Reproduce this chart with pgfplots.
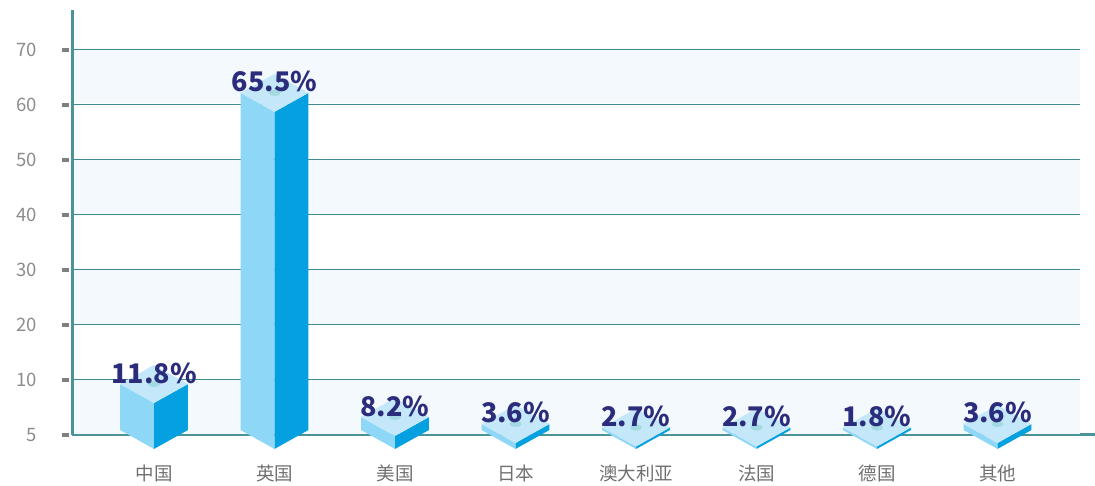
\documentclass[border=0pt]{standalone}
\usepackage{fontspec}
\setmainfont{Noto Sans CJK SC}
\usepackage{pgfplots}
\usepackage{pgfplotstable}
\pgfplotsset{compat=1.18}
\definecolor{lface}{HTML}{8FD7F7}
\definecolor{rface}{HTML}{05A0E0}
\definecolor{tface}{HTML}{C4E8FA}
\definecolor{spotc}{HTML}{A3DAE2}
\definecolor{navy}{HTML}{2B2D7C}
\definecolor{bandc}{HTML}{F4F9FD}
\definecolor{gridc}{HTML}{3D8B92}
\definecolor{axisc}{HTML}{4A9399}
\definecolor{tickc}{HTML}{808080}
\definecolor{ytickc}{HTML}{8C8C8C}
\definecolor{xtickc}{HTML}{707070}

% x = category position, top = drawn height of the cube's side edges, val = label value
\pgfplotstableread{
x top val
0 9.27 11.8
1 62.2 65.5
2 3.27 8.2
3 2.0 3.6
4 1.36 2.7
5 1.36 2.7
6 1.36 1.8
7 2.0 3.6
}\bars

\newcommand\cube[2]{%
  \pgfmathsetmacro\xl{#1-0.282}%
  \pgfmathsetmacro\xr{#1+0.282}%
  \pgfmathsetmacro\tb{#2+3.45}%
  \pgfmathsetmacro\tf{#2-3.45}%
  \edef\doit{%
    \noexpand\addplot[fill=lface,draw=none] coordinates {(\xl,#2) (#1,\tf) (#1,-2.54) (\xl,0.91)};
    \noexpand\addplot[fill=rface,draw=none] coordinates {(#1,\tf) (\xr,#2) (\xr,0.91) (#1,-2.54)};
    \noexpand\addplot[fill=tface,draw=none] coordinates {(\xl,#2) (#1,\tb) (\xr,#2) (#1,\tf)};
  }\doit}

\begin{document}
\begin{tikzpicture}
\begin{axis}[
  at={(0,0)}, anchor=south west,
  scale only axis, width=1023pt, height=425pt,
  xmin=-0.6805, xmax=7.809, ymin=0, ymax=77.27,
  clip=false,
  axis x line=bottom, axis y line=left,
  axis line style={-, draw=axisc, line width=3pt},
  every outer x axis line/.append style={-},
  every outer y axis line/.append style={-},
  xtick={0,...,7},
  xticklabels={中国,英国,美国,日本,澳大利亚,法国,德国,其他},
  ytick={0,10,...,70},
  yticklabels={5,10,20,30,40,50,60,70},
  major tick length=0pt,
  tick style={draw=none},
  /pgf/number format/assume math mode=true,
  yticklabel style={anchor=east, inner sep=0pt, xshift=-35pt, font=\fontsize{18.5}{20}\selectfont, text=ytickc},
  xticklabel style={anchor=north, inner sep=0pt, yshift=-30pt, font=\fontsize{18.5}{20}\selectfont, text=xtickc},
]
% background bands
\pgfplotsinvokeforeach{0,20,40,60}{
  \addplot[fill=bandc, draw=none] coordinates {(-0.668,#1+0.27) (7.685,#1+0.27) (7.685,#1+10) (-0.668,#1+10)};
}
% grid lines
\pgfplotsinvokeforeach{10,20,...,70}{
  \addplot[gridc, line width=1pt] coordinates {(-0.668,#1) (7.685,#1)};
}
% tick marks
\pgfplotsinvokeforeach{0,10,...,70}{
  \addplot[tickc, line width=3.5pt] coordinates {(-0.7635,#1) (-0.702,#1)};
}
% cubes
\pgfplotsforeachungrouped \i in {0,...,7}{%
  \pgfplotstablegetelem{\i}{top}\of\bars
  \let\ctop\pgfplotsretval
  \cube{\i}{\ctop}}
% spots and value labels
\addplot[only marks, color=spotc, mark=*, mark size=3.2pt,
  mark options={fill=spotc, draw=spotc, xscale=1.8, yscale=0.9},
  point meta=explicit,
  nodes near coords={\pgfmathprintnumber[fixed,fixed zerofill,precision=1]{\pgfplotspointmeta}\%},
  every node near coord/.append style={anchor=base, inner sep=0pt, yshift=1pt,
    font=\fontsize{27}{29}\selectfont\bfseries, text=navy}]
  table[x=x, y=top, meta=val] {\bars};
\end{axis}
\pgfresetboundingbox
\path (-72pt,-51pt) rectangle (1023pt,435pt);
\end{tikzpicture}
\end{document}
